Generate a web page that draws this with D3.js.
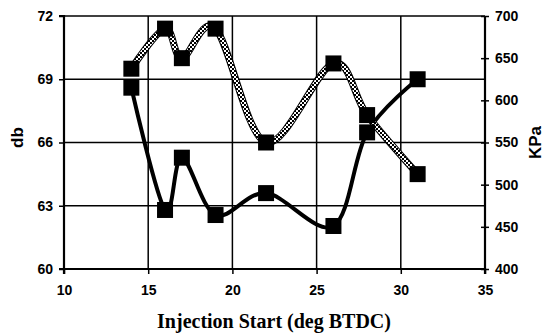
<!DOCTYPE html>
<html><head><meta charset="utf-8">
<script src="https://cdn.jsdelivr.net/npm/d3@7"></script>
<style>body{margin:0;background:#fff}svg{display:block}</style>
</head><body>
<script>
const injection = [14, 16, 17, 19, 22, 26, 28, 31];
const noiseDb = [69.5, 71.4, 70.0, 71.4, 66.0, 69.75, 67.3, 64.5];
const pressureKPa = [615, 470, 532, 464, 490, 451, 562, 625];
const xTicks = [10, 15, 20, 25, 30, 35];
const dbTicks = [60, 63, 66, 69, 72];
const kpaTicks = [400, 450, 500, 550, 600, 650, 700];

const W = 546, H = 335;
const m = {l: 64, r: 485, t: 16, b: 269};
const svg = d3.select("body").append("svg").attr("width", W).attr("height", H);

const defs = svg.append("defs");
const pat = defs.append("pattern").attr("id", "chk").attr("patternUnits", "userSpaceOnUse")
  .attr("width", 4).attr("height", 4);
pat.append("rect").attr("width", 4).attr("height", 4).attr("fill", "#fff");
pat.append("rect").attr("width", 2).attr("height", 2).attr("fill", "#000");
pat.append("rect").attr("x", 2).attr("y", 2).attr("width", 2).attr("height", 2).attr("fill", "#000");

const x = d3.scaleLinear().domain([10, 35]).range([m.l, m.r]);
const yL = d3.scaleLinear().domain([60, 72]).range([m.b, m.t]);
const yR = d3.scaleLinear().domain([400, 700]).range([m.b, m.t]);

// grid
const g = svg.append("g");
g.selectAll(".vg").data(xTicks.slice(1, -1)).join("line")
  .attr("x1", d => x(d)).attr("x2", d => x(d)).attr("y1", m.t).attr("y2", m.b)
  .attr("stroke", "#000").attr("stroke-width", 1.5);
g.selectAll(".hg").data(dbTicks.slice(1)).join("line")
  .attr("x1", m.l).attr("x2", m.r).attr("y1", d => yL(d)).attr("y2", d => yL(d))
  .attr("stroke", "#000").attr("stroke-width", 1.5);

const font = "'Liberation Sans', Arial, sans-serif";
// axes
const axL = d3.axisLeft(yL).tickValues(dbTicks).tickSize(5).tickPadding(6);
const axR = d3.axisRight(yR).tickValues(kpaTicks).tickSize(4).tickPadding(6);
const axB = d3.axisBottom(x).tickValues(xTicks).tickSize(5).tickPadding(11);

function style(sel) {
  sel.select(".domain").attr("stroke", "#000").attr("stroke-width", 2.2);
  sel.selectAll(".tick line").attr("stroke", "#000").attr("stroke-width", 1.5);
  sel.selectAll("text").attr("font-family", font).attr("font-weight", "bold")
    .attr("font-size", 14).attr("fill", "#000");
}
svg.append("g").attr("transform", `translate(${m.l},0)`).call(axL).call(style)
  .call(s => s.select(".domain").attr("d", `M-5,${m.t}H0V${m.b}H-5`));
const gr = svg.append("g").attr("transform", `translate(${m.r},0)`).call(axR).call(style);
gr.select(".domain").attr("d", `M0,${m.t}V${m.b}`);
gr.selectAll(".tick line").attr("x1", -4);
svg.append("g").attr("transform", `translate(0,${m.b})`).call(axB).call(style)
  .call(s => s.select(".domain").attr("d", `M${m.l},5V0H${m.r}V5`));

// lines
const lineP = d3.line().x(d => x(d[0])).y(d => yR(d[1])).curve(d3.curveCardinal.tension(0));
const lineN = d3.line().x(d => x(d[0])).y(d => yL(d[1])).curve(d3.curveCardinal.tension(0));
const pData = injection.map((v, i) => [v, pressureKPa[i]]);
const nData = injection.map((v, i) => [v, noiseDb[i]]);

svg.append("path").attr("d", lineP(pData)).attr("fill", "none").attr("stroke", "#000")
  .attr("stroke-width", 4);
svg.append("path").attr("d", lineN(nData)).attr("fill", "none").attr("stroke", "#000")
  .attr("stroke-width", 7);
svg.append("path").attr("d", lineN(nData)).attr("fill", "none").attr("stroke", "url(#chk)")
  .attr("stroke-width", 5);

const S = 16;
svg.selectAll(".mp").data(pData).join("rect")
  .attr("x", d => x(d[0]) - S / 2).attr("y", d => yR(d[1]) - S / 2)
  .attr("width", S).attr("height", S).attr("fill", "#000");
svg.selectAll(".mn").data(nData).join("rect")
  .attr("x", d => x(d[0]) - S / 2).attr("y", d => yL(d[1]) - S / 2)
  .attr("width", S).attr("height", S).attr("fill", "#000");

// axis titles
svg.append("text").attr("transform", `translate(23,${(m.t + m.b) / 2 - 5}) rotate(-90)`)
  .attr("text-anchor", "middle").attr("font-family", font).attr("font-weight", "bold")
  .attr("font-size", 17).text("db");
svg.append("text").attr("transform", `translate(541,${(m.t + m.b) / 2}) rotate(-90)`)
  .attr("text-anchor", "middle").attr("font-family", font).attr("font-weight", "bold")
  .attr("font-size", 17).text("KPa");
svg.append("text").attr("x", 274).attr("y", 328)
  .attr("text-anchor", "middle").attr("font-family", "'Liberation Serif', 'Times New Roman', serif")
  .attr("font-weight", "bold").attr("font-size", 20).text("Injection Start (deg BTDC)");
</script>
</body></html>
